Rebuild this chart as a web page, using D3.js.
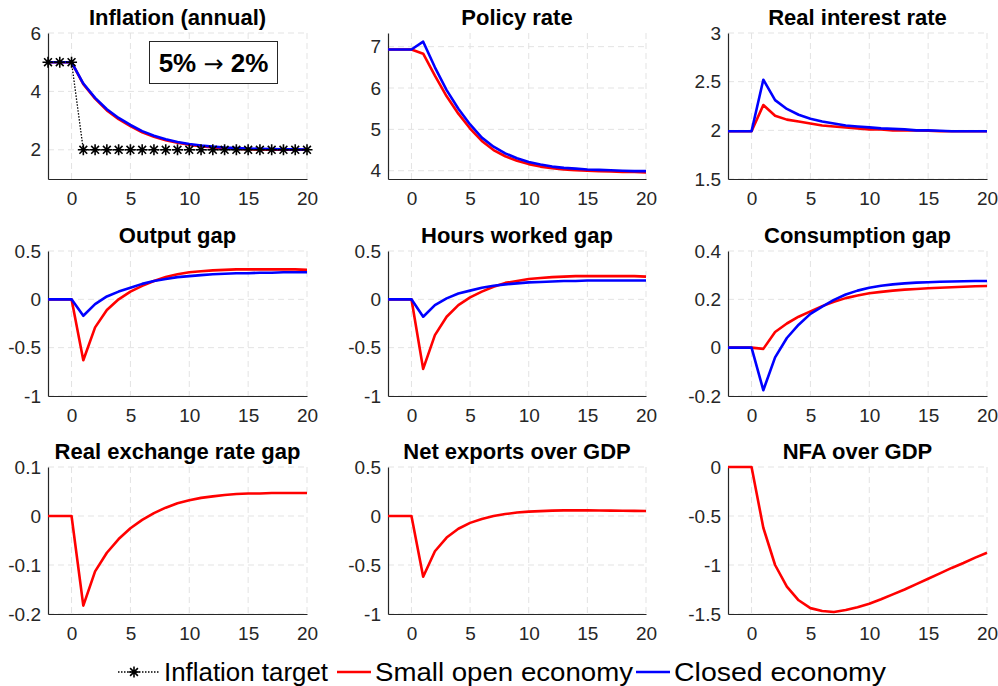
<!DOCTYPE html>
<html>
<head>
<meta charset="utf-8">
<script src="https://cdn.jsdelivr.net/npm/d3@7"></script>
<style>
  body { margin: 0; background: #fff; }
  svg { font-family: 'Liberation Sans', Arial, sans-serif; }
</style>
</head>
<body>
<svg id="chart" width="998" height="686"></svg>
<script>
// horizon (quarters)
var periods = [-2,-1,0,1,2,3,4,5,6,7,8,9,10,11,12,13,14,15,16,17,18,19,20];

var inflTarget = [5,5,5,2,2,2,2,2,2,2,2,2,2,2,2,2,2,2,2,2,2,2,2];
var inflOpen   = [5,5,5,4.25,3.75,3.35,3.05,2.81,2.6,2.45,2.33,2.24,2.17,2.12,2.08,2.05,2.035,2.02,2.01,2.005,2.0,2.0,2.0];
var inflClosed = [5,5,5,4.27,3.78,3.39,3.09,2.85,2.64,2.48,2.36,2.27,2.2,2.15,2.11,2.08,2.06,2.045,2.035,2.025,2.02,2.015,2.01];

var policyOpen   = [6.93,6.93,6.93,6.83,6.3,5.8,5.38,5.02,4.72,4.5,4.35,4.24,4.16,4.1,4.06,4.03,4.01,4.0,3.99,3.98,3.97,3.97,3.96];
var policyClosed = [6.93,6.93,6.93,7.12,6.5,5.95,5.5,5.12,4.8,4.58,4.42,4.3,4.21,4.15,4.1,4.07,4.05,4.03,4.02,4.01,4.0,3.99,3.99];

var realOpen   = [1.99,1.99,1.99,2.26,2.15,2.11,2.09,2.07,2.05,2.04,2.03,2.02,2.01,2.01,2.0,2.0,2.0,1.995,1.99,1.99,1.99,1.99,1.99];
var realClosed = [1.99,1.99,1.99,2.52,2.31,2.22,2.16,2.12,2.09,2.07,2.05,2.04,2.03,2.02,2.015,2.01,2.0,2.0,1.995,1.99,1.99,1.99,1.99];

var outputOpen   = [0,0,0,-0.63,-0.29,-0.11,0.0,0.08,0.14,0.19,0.23,0.26,0.28,0.29,0.3,0.305,0.31,0.31,0.31,0.31,0.31,0.31,0.305];
var outputClosed = [0,0,0,-0.17,-0.05,0.03,0.08,0.12,0.16,0.19,0.21,0.23,0.24,0.25,0.26,0.265,0.27,0.27,0.275,0.275,0.28,0.28,0.28];

var hoursOpen   = [0,0,0,-0.72,-0.37,-0.18,-0.06,0.02,0.08,0.13,0.17,0.19,0.21,0.22,0.23,0.235,0.24,0.24,0.24,0.24,0.24,0.24,0.235];
var hoursClosed = [0,0,0,-0.18,-0.06,0.01,0.06,0.09,0.12,0.14,0.155,0.165,0.175,0.18,0.185,0.19,0.19,0.195,0.195,0.195,0.195,0.195,0.195];

var consOpen   = [0,0,0,-0.005,0.065,0.1,0.128,0.15,0.172,0.19,0.205,0.216,0.225,0.231,0.236,0.24,0.243,0.246,0.248,0.25,0.252,0.254,0.255];
var consClosed = [0,0,0,-0.176,-0.04,0.04,0.095,0.14,0.17,0.198,0.22,0.236,0.248,0.256,0.262,0.266,0.269,0.271,0.273,0.274,0.275,0.276,0.276];

var rerOpen = [0,0,0,-0.183,-0.113,-0.075,-0.047,-0.025,-0.008,0.006,0.017,0.026,0.032,0.037,0.04,0.043,0.045,0.046,0.046,0.047,0.047,0.047,0.047];
var nxOpen  = [0,0,0,-0.62,-0.36,-0.22,-0.13,-0.07,-0.03,0.0,0.02,0.035,0.045,0.05,0.055,0.057,0.057,0.057,0.056,0.055,0.054,0.052,0.051];
var nfaOpen = [0,0,0,-0.62,-1.0,-1.22,-1.36,-1.44,-1.47,-1.48,-1.46,-1.43,-1.395,-1.35,-1.3,-1.25,-1.195,-1.14,-1.085,-1.03,-0.98,-0.925,-0.875];

var xTicks = [0,5,10,15,20];
var legendLabels = ['Inflation target', 'Small open economy', 'Closed economy'];

var panels = [
  { title: 'Inflation (annual)', y: [1, 6], ticks: [2,4,6], open: inflOpen, closed: inflClosed, target: inflTarget },
  { title: 'Policy rate', y: [3.8, 7.33], ticks: [4,5,6,7], open: policyOpen, closed: policyClosed },
  { title: 'Real interest rate', y: [1.5, 3], ticks: [1.5,2,2.5,3], open: realOpen, closed: realClosed },
  { title: 'Output gap', y: [-1, 0.5], ticks: [-1,-0.5,0,0.5], open: outputOpen, closed: outputClosed },
  { title: 'Hours worked gap', y: [-1, 0.5], ticks: [-1,-0.5,0,0.5], open: hoursOpen, closed: hoursClosed },
  { title: 'Consumption gap', y: [-0.2, 0.4], ticks: [-0.2,0,0.2,0.4], open: consOpen, closed: consClosed },
  { title: 'Real exchange rate gap', y: [-0.2, 0.1], ticks: [-0.2,-0.1,0,0.1], open: rerOpen },
  { title: 'Net exports over GDP', y: [-1, 0.5], ticks: [-1,-0.5,0,0.5], open: nxOpen },
  { title: 'NFA over GDP', y: [-1.5, 0], ticks: [-1.5,-1,-0.5,0], open: nfaOpen }
];

var svg = d3.select('#chart');
var cols = [ [48, 307], [388, 646], [728, 987] ],
  rows = [ [33, 179], [251, 396], [467, 614] ];

var red = '#ff0000', blue = '#0000ff', axisCol = '#262626', gridCol = '#e3e3e3';

function starPath(x, y) {
  var r = 5.5, d = 3.9;
  return 'M' + (x - r) + ',' + y + 'H' + (x + r) +
    'M' + x + ',' + (y - r) + 'V' + (y + r) +
    'M' + (x - d) + ',' + (y - d) + 'L' + (x + d) + ',' + (y + d) +
    'M' + (x - d) + ',' + (y + d) + 'L' + (x + d) + ',' + (y - d);
}

panels.forEach(function(p, i) {
  var c = cols[i % 3], r = rows[Math.floor(i / 3)];

  var x = d3.scaleLinear().domain([-2, 20]).range(c);
  var y = d3.scaleLinear().domain(p.y).range([r[1], r[0]]);

  var g = svg.append('g');

  // grid
  g.append('g').selectAll('line.gx')
    .data(xTicks).enter().append('line')
      .attr('x1', d => x(d)).attr('x2', d => x(d))
      .attr('y1', r[0]).attr('y2', r[1])
      .style('stroke', gridCol).style('stroke-dasharray', '6,4');
  g.append('g').selectAll('line.gy')
    .data(p.ticks).enter().append('line')
      .attr('x1', c[0]).attr('x2', c[1])
      .attr('y1', d => y(d)).attr('y2', d => y(d))
      .style('stroke', gridCol).style('stroke-dasharray', '6,4');

  // axes
  var xa = g.append('g')
    .attr('transform', 'translate(0,' + r[1] + ')')
    .call(d3.axisBottom(x).tickValues(xTicks).tickSize(0).tickPadding(8).tickFormat(d => String(d)));
  var ya = g.append('g')
    .attr('transform', 'translate(' + c[0] + ',0)')
    .call(d3.axisLeft(y).tickValues(p.ticks).tickSize(0).tickPadding(7).tickFormat(d => String(d)));
  [xa, ya].forEach(function(a) {
    a.attr('font-family', null).attr('font-size', null);
    a.select('.domain').style('stroke', axisCol).style('stroke-width', 1.2);
    a.selectAll('text').style('font-size', '19px').style('fill', axisCol);
  });
  xa.selectAll('text').attr('dy', '0.95em');

  var line = d3.line()
    .x((d, j) => x(periods[j]))
    .y(d => y(d));

  g.append('path').datum(p.open)
    .attr('d', line)
    .style('fill', 'none').style('stroke', red).style('stroke-width', 2.6)
    .style('stroke-linejoin', 'round');
  if (p.closed) {
    g.append('path').datum(p.closed)
      .attr('d', line)
      .style('fill', 'none').style('stroke', blue).style('stroke-width', 2.6)
      .style('stroke-linejoin', 'round');
  }
  if (p.target) {
    g.append('path').datum(p.target)
      .attr('d', line)
      .style('fill', 'none').style('stroke', '#000').style('stroke-width', 1.3)
      .style('stroke-dasharray', '1.5,1.5');
    g.selectAll('path.star')
      .data(p.target).enter().append('path')
        .attr('class', 'star')
        .attr('d', (d, j) => starPath(x(periods[j]), y(d)))
        .style('stroke', '#000').style('stroke-width', 1.6).style('fill', 'none');

    // annotation box
    var bx = g.append('g');
    bx.append('rect')
      .attr('x', 149.5).attr('y', 41.5).attr('width', 128).attr('height', 42)
      .style('fill', '#fff').style('stroke', axisCol).style('stroke-width', 1);
    var bt = bx.append('text')
      .attr('x', 213.5).attr('y', 72)
      .attr('text-anchor', 'middle')
      .style('font-size', '26px').style('font-weight', 'bold');
    bt.append('tspan').text('5% ');
    bt.append('tspan').style('font-weight', 'normal').style('font-family', 'DejaVu Sans')
      .style('font-size', '24px').text('\u2192');
    bt.append('tspan').text(' 2%');
  }

  g.append('text')
    .attr('x', (c[0] + c[1]) / 2)
    .attr('y', r[0] - 8)
    .attr('text-anchor', 'middle')
    .style('font-size', '22px').style('font-weight', 'bold')
    .text(p.title);
});

/* Legend */

var legend = svg.append('g').attr('class', 'legend');
var ly = 672;
var legendX = [126, 337, 636],      // icon start
  legendW = [164, 258, 212];         // text length
legendLabels.forEach(function(lab, i) {
  var item = legend.append('g');
  var x0 = legendX[i];
  if (i === 0) {
    item.append('line')
      .attr('x1', x0 - 8).attr('x2', x0 + 34).attr('y1', ly).attr('y2', ly)
      .style('stroke', '#000').style('stroke-width', 1.3).style('stroke-dasharray', '1.5,1.5');
    item.append('path').attr('d', starPath(x0 + 8, ly))
      .style('stroke', '#000').style('stroke-width', 1.6);
  } else {
    item.append('line')
      .attr('x1', x0).attr('x2', x0 + 34).attr('y1', ly).attr('y2', ly)
      .style('stroke', i === 1 ? red : blue).style('stroke-width', 2.6);
  }
  item.append('text')
    .attr('x', x0 + 38).attr('y', 681)
    .attr('textLength', legendW[i])
    .attr('lengthAdjust', 'spacingAndGlyphs')
    .style('font-size', '26px')
    .text(lab);
});
</script>
</body>
</html>
